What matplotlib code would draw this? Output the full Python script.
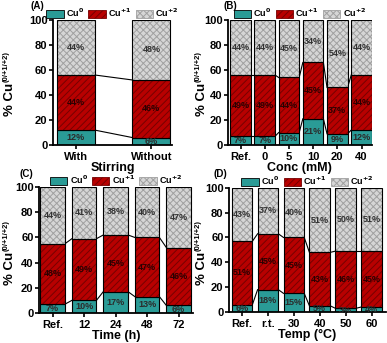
import numpy as np
import matplotlib
matplotlib.use("Agg")
import matplotlib.pyplot as plt
from matplotlib.patches import Patch

plt.rcParams['font.family'] = ['Liberation Sans', 'DejaVu Sans']
plt.rcParams['font.weight'] = 'bold'
plt.rcParams['hatch.linewidth'] = 0.7

# --------------------------
# Data (% of each Cu species)
# --------------------------
stir_cats = ['With', 'Without']
stir_cu0 = [12, 6]
stir_cu1 = [44, 46]
stir_cu2 = [44, 48]

conc_cats = ['Ref.', '0', '5', '10', '20', '40']
conc_cu0 = [7, 7, 10, 21, 9, 12]
conc_cu1 = [49, 49, 44, 45, 37, 44]
conc_cu2 = [44, 44, 45, 34, 54, 44]

time_cats = ['Ref.', '12', '24', '48', '72']
time_cu0 = [7, 10, 17, 13, 6]
time_cu1 = [48, 49, 45, 47, 46]
time_cu2 = [44, 41, 38, 40, 47]

temp_cats = ['Ref.', 'r.t.', '30', '40', '50', '60']
temp_cu0 = [6, 18, 15, 5, 3, 4]
temp_cu1 = [51, 45, 45, 43, 46, 45]
temp_cu2 = [43, 37, 40, 51, 50, 51]

# colours
c_teal = '#2a9b96'
c_red = '#b80000'
c_red_h = '#760000'
c_gray = '#d6d6d6'
c_gray_h = '#a0a0a0'

W, H = 387, 343
fig = plt.figure(figsize=(W / 100, H / 100), dpi=100)


def px(x, y):
    return x / W, 1 - y / H


def panel(rect, cats, cu0, cu1, cu2, width, xlim, xlabel, tag, tagpos, ylab_pos):
    ax = fig.add_axes(rect)
    x = np.arange(len(cats))
    cu0 = np.array(cu0)
    cu1 = np.array(cu1)
    b1 = cu0
    b2 = cu0 + cu1
    top = 100 - b2

    # teal
    ax.bar(x, cu0, width, color=c_teal, edgecolor='black', linewidth=0.8, zorder=2)
    # red hatched
    ax.bar(x, cu1, width, bottom=b1, color=c_red, edgecolor=c_red_h, hatch='/////',
           linewidth=0, zorder=2)
    ax.bar(x, cu1, width, bottom=b1, fill=False, edgecolor='black', linewidth=0.8, zorder=3)
    # gray checker
    ax.bar(x, top, width, bottom=b2, color=c_gray, edgecolor=c_gray_h, hatch='xxxxx',
           linewidth=0, zorder=2)
    ax.bar(x, top, width, bottom=b2, fill=False, edgecolor='black', linewidth=0.8, zorder=3)

    # connecting lines
    for i in range(len(cats) - 1):
        for lvl in (b1, b2):
            ax.plot([x[i] + width / 2, x[i + 1] - width / 2], [lvl[i], lvl[i + 1]],
                    color='black', linewidth=0.8, zorder=1)

    # labels
    for i in range(len(cats)):
        ax.text(x[i], b1[i] / 2, f'{cu0[i]}%', ha='center', va='center', fontsize=6.5,
                color='#2b2b2b', zorder=4)
        ax.text(x[i], b1[i] + cu1[i] / 2, f'{cu1[i]}%', ha='center', va='center',
                fontsize=6.5, color='#2a0000', zorder=4)
        ax.text(x[i], b2[i] + top[i] / 2, f'{cu2[i]}%', ha='center', va='center',
                fontsize=6.5, color='#333333', zorder=4)

    ax.set_xlim(*xlim)
    ax.set_ylim(0, 100)
    ax.set_xticks(x)
    ax.set_xticklabels(cats, fontsize=8, fontweight='bold')
    ax.set_yticks([0, 20, 40, 60, 80, 100])
    ax.tick_params(axis='y', labelsize=8, width=1.2, length=3, pad=1)
    ax.tick_params(axis='x', width=1.2, length=3, pad=2)
    for lab in ax.get_yticklabels():
        lab.set_fontweight('bold')
    ax.spines['top'].set_visible(False)
    ax.spines['right'].set_visible(False)
    ax.spines['left'].set_linewidth(1.3)
    ax.spines['bottom'].set_linewidth(1.3)
    ax.set_xlabel(xlabel, fontsize=9, fontweight='bold', labelpad=0)

    # y label: "% Cu" with small superscript
    lx, ly = ylab_pos
    fig.text(*px(lx, ly), '% Cu', rotation=90, fontsize=9.5, fontweight='bold',
             ha='center', va='top')
    fig.text(*px(lx - 4, ly - 1), '(0/+1/+2)', rotation=90, fontsize=5.5,
             fontweight='bold', ha='center', va='bottom')

    handles = [Patch(facecolor=c_teal, edgecolor='black', linewidth=0.6),
               Patch(facecolor=c_red, edgecolor=c_red_h, hatch='/////', linewidth=0.6),
               Patch(facecolor=c_gray, edgecolor=c_gray_h, hatch='xxxxx', linewidth=0.6)]
    ax.legend(handles, [r'Cu$^{\mathbf{0}}$', r'Cu$^{\mathbf{+1}}$', r'Cu$^{\mathbf{+2}}$'],
              loc='lower center', bbox_to_anchor=(0.5, 1.0), ncol=3, frameon=False,
              fontsize=6.5, handlelength=1.9, handleheight=0.9, columnspacing=0.5,
              handletextpad=0.25, borderaxespad=0, borderpad=0.1)
    fig.text(*px(*tagpos), tag, fontsize=7, fontweight='bold', ha='left', va='center')
    return ax


panel([0.137, 0.577, 0.307, 0.365], stir_cats, stir_cu0, stir_cu1, stir_cu2,
      0.5, (-0.3, 1.27), 'Stirring', '(A)', (31, 6), (10, 83))
panel([0.589, 0.577, 0.372, 0.365], conc_cats, conc_cu0, conc_cu1, conc_cu2,
      0.85, (-0.52, 5.43), 'Conc (mM)', '(B)', (223, 6), (202, 83))
panel([0.101, 0.0875, 0.398, 0.367], time_cats, time_cu0, time_cu1, time_cu2,
      0.78, (-0.43, 4.46), 'Time (h)', '(C)', (20, 174), (10, 252))
panel([0.592, 0.0904, 0.405, 0.362], temp_cats, temp_cu0, temp_cu1, temp_cu2,
      0.8, (-0.5, 5.55), 'Temp (\u00b0C)', '(D)', (214, 174), (202, 252))

fig.savefig('out.png', dpi=100)
